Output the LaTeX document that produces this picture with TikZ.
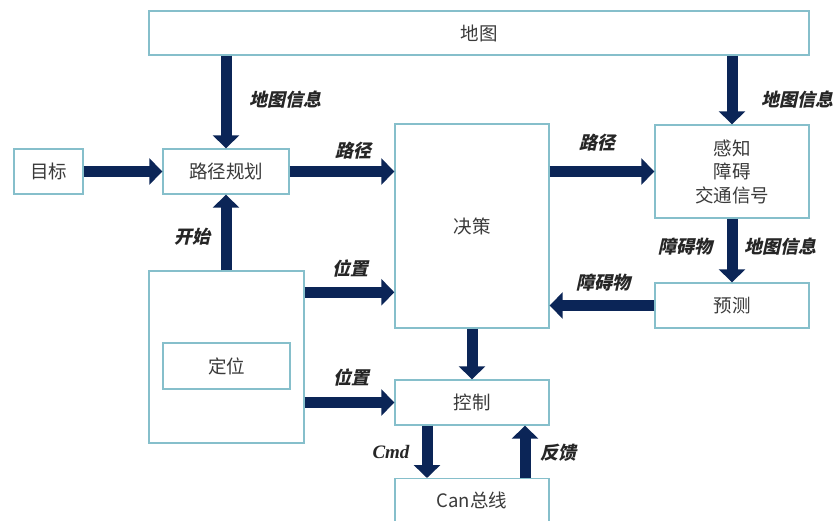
\documentclass[tikz,border=0pt]{standalone}
\usepackage{fontspec}
\usetikzlibrary{arrows.meta,calc}
\newfontfamily\cjk{Noto Sans CJK SC}
\newfontfamily\cjklab{Noto Sans CJK SC}[FakeSlant=0.22]
\newfontfamily\serlab{Liberation Serif}
\definecolor{boxline}{HTML}{86BFCB}
\definecolor{arrowc}{HTML}{0B2557}
\definecolor{txt}{HTML}{3A3A3A}
\tikzset{
  box/.style={draw=boxline, line width=1.4pt, fill=white, inner sep=0pt, text=txt,
    font=\cjk\fontsize{18.5}{23.5}\selectfont, align=center},
  fat/.style={draw=arrowc, line width=11pt, -{Triangle[width=26pt,length=13pt]}},
  lab/.style={font=\cjklab\bfseries\fontsize{18}{19}\selectfont, text=black!85, inner sep=0pt}
}
\begin{document}
\begin{tikzpicture}[x=1pt,y=-1pt]
\useasboundingbox (0,0) rectangle (838,521);
\clip (0,0) rectangle (838,521);
\fill[white] (0,0) rectangle (838,521);
% boxes
\node[box, minimum width=660, minimum height=44] (map) at (479,33) {地图};
\node[box, minimum width=69, minimum height=45] (tgt) at (48.5,171.5) {目标};
\node[box, minimum width=126, minimum height=45] (rp) at (226,171.5) {路径规划};
\node[box, minimum width=154, minimum height=204] (dec) at (472,226) {决策};
\node[box, minimum width=154, minimum height=93] (per) at (732,171.5) {感知\\障碍\\交通信号};
\node[box, minimum width=154, minimum height=45] (pred) at (732,305.5) {预测};
\node[box, minimum width=155, minimum height=172] (loc) at (226.5,357) {};
\node[box, minimum width=127, minimum height=46] (locin) at (226.5,366) {定位};
\node[box, minimum width=154, minimum height=45] (ctl) at (472,402.5) {控制};
\node[box, minimum width=154, minimum height=50, anchor=north] (can) at (472,478) {};
\node[font=\cjk\fontsize{18.5}{20}\selectfont, text=txt] (cantext) at (472,500) {Can总线};
% arrows
\draw[fat] (map.south -| rp.north) -- (rp.north);
\draw[fat] (tgt.east) -- (rp.west);
\draw[fat] (rp.east) -- (rp.east -| dec.west);
\draw[fat] (loc.north -| rp.south) -- (rp.south);
\draw[fat] (map.south -| per.north) -- (per.north);
\draw[fat] (rp.east -| dec.east) -- (rp.east -| per.west);
\draw[fat] (per.south) -- (pred.north);
\draw[fat] (pred.west) -- (pred.west -| dec.east);
\draw[fat] ([yshift=-22pt]loc.north east) coordinate (p1) -- (p1 -| dec.west);
\draw[fat] (ctl.west -| loc.east) -- (ctl.west);
\draw[fat] (dec.south) -- (ctl.north);
\draw[fat] ([xshift=-45pt]ctl.south) coordinate (p2) -- (p2 |- can.north);
\draw[fat] ([xshift=53pt]can.north) coordinate (p3) -- (p3 |- ctl.south);
% labels
\node[lab] (l1) at (285,100) {地图信息};
\node[lab] (l2) at (353,151) {路径};
\node[lab] (l3) at (192,237) {开始};
\node[lab] (l4) at (797,100) {地图信息};
\node[lab] (l5) at (597,143) {路径};
\node[lab] (l6) at (685,247) {障碍物};
\node[lab] (l7) at (780,247) {地图信息};
\node[lab] (l8) at (603,283) {障碍物};
\node[lab] (l9) at (350,268) {位置};
\node[lab] (l10) at (351,377) {位置};
\node[lab, font=\serlab\bfseries\itshape\fontsize{19}{20}\selectfont] (l11) at (391,452) {Cmd};
\node[lab] (l12) at (558,453) {反馈};
\end{tikzpicture}
\end{document}
